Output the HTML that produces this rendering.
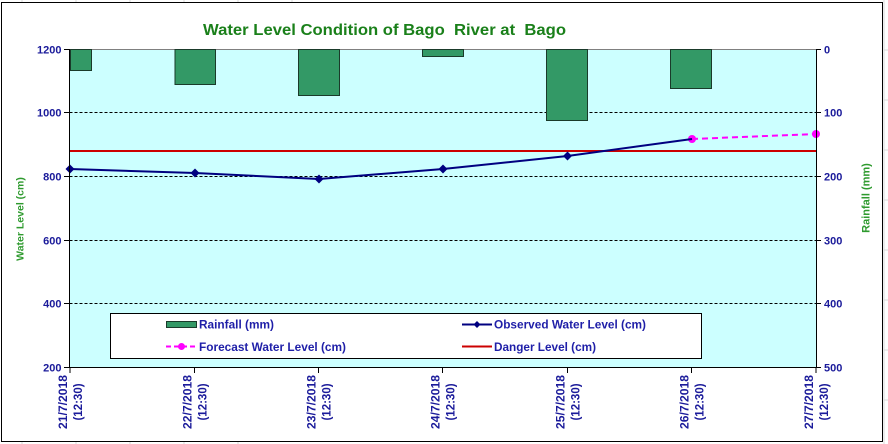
<!DOCTYPE html>
<html>
<head>
<meta charset="utf-8">
<style>
html,body{margin:0;padding:0;background:#fff;}
svg{display:block;}
text{font-family:"Liberation Sans",Arial,sans-serif;font-weight:bold;}
</style>
</head>
<body>
<svg width="888" height="444" viewBox="0 0 888 444" xmlns="http://www.w3.org/2000/svg">
  <rect x="0" y="0" width="888" height="444" fill="#ffffff"/>
  <g stroke="#d8d8d8" stroke-width="1">
    <line x1="884" y1="0" x2="884" y2="444"/>
    <line x1="22" y1="0" x2="22" y2="2"/>
    <line x1="76" y1="0" x2="76" y2="2"/>
    <line x1="130" y1="0" x2="130" y2="2"/>
    <line x1="184" y1="0" x2="184" y2="2"/>
    <line x1="238" y1="0" x2="238" y2="2"/>
    <line x1="292" y1="0" x2="292" y2="2"/>
    <line x1="22" y1="442" x2="22" y2="444"/>
    <line x1="76" y1="442" x2="76" y2="444"/>
    <line x1="130" y1="442" x2="130" y2="444"/>
    <line x1="184" y1="442" x2="184" y2="444"/>
    <line x1="238" y1="442" x2="238" y2="444"/>
    <line x1="884" y1="50" x2="888" y2="50"/>
    <line x1="884" y1="100" x2="888" y2="100"/>
    <line x1="884" y1="150" x2="888" y2="150"/>
    <line x1="884" y1="200" x2="888" y2="200"/>
    <line x1="884" y1="250" x2="888" y2="250"/>
    <line x1="884" y1="300" x2="888" y2="300"/>
    <line x1="884" y1="350" x2="888" y2="350"/>
    <line x1="884" y1="400" x2="888" y2="400"/>
  </g>
  <rect x="1.5" y="2.5" width="881" height="439" fill="#ffffff" stroke="#000" stroke-width="1"/>

  <text x="203" y="35" font-size="16" fill="#1a801a" textLength="363" lengthAdjust="spacingAndGlyphs" xml:space="preserve">Water Level Condition of Bago  River at  Bago</text>

  <rect x="69.5" y="49" width="746.5" height="318.7" fill="#ccffff"/>
  <line x1="69.5" y1="49.5" x2="816" y2="49.5" stroke="#808080" stroke-width="1"/>

  <g stroke="#000" stroke-width="1" stroke-dasharray="3,2">
    <line x1="69.5" y1="112.5" x2="816" y2="112.5"/>
    <line x1="69.5" y1="176.5" x2="816" y2="176.5"/>
    <line x1="69.5" y1="240.5" x2="816" y2="240.5"/>
    <line x1="69.5" y1="303.5" x2="816" y2="303.5"/>
  </g>

  <g fill="#339966" stroke="#1a3a2a" stroke-width="1">
    <rect x="70.5" y="49.5" width="21" height="21"/>
    <rect x="175" y="49.5" width="40.5" height="35"/>
    <rect x="298.5" y="49.5" width="41" height="46"/>
    <rect x="422.5" y="49.5" width="41" height="7"/>
    <rect x="546.5" y="49.5" width="41" height="71"/>
    <rect x="670.5" y="49.5" width="41" height="39"/>
  </g>

  <line x1="70" y1="151" x2="816" y2="151" stroke="#cc0000" stroke-width="2"/>

  <line x1="692" y1="139" x2="816" y2="134" stroke="#ff00ff" stroke-width="2" stroke-dasharray="6,4"/>
  <circle cx="692" cy="139" r="4" fill="#ff00ff"/>
  <circle cx="816" cy="134" r="4" fill="#ff00ff"/>

  <polyline points="70,169 195,173 319,179 443,169 567.5,156 692,139" fill="none" stroke="#000080" stroke-width="2"/>
  <g fill="#000080">
    <polygon points="70,164.5 74.5,169 70,173.5 65.5,169"/>
    <polygon points="195,168.5 199.5,173 195,177.5 190.5,173"/>
    <polygon points="319,174.5 323.5,179 319,183.5 314.5,179"/>
    <polygon points="443,164.5 447.5,169 443,173.5 438.5,169"/>
    <polygon points="567.5,151.5 572,156 567.5,160.5 563,156"/>
  </g>

  <g stroke="#000" stroke-width="1">
    <line x1="69.5" y1="49" x2="69.5" y2="368"/>
    <line x1="816.5" y1="49" x2="816.5" y2="368"/>
    <line x1="69" y1="367.5" x2="817" y2="367.5"/>
    <line x1="64" y1="49.5" x2="69.5" y2="49.5"/>
    <line x1="64" y1="112.5" x2="69.5" y2="112.5"/>
    <line x1="64" y1="176.5" x2="69.5" y2="176.5"/>
    <line x1="64" y1="240.5" x2="69.5" y2="240.5"/>
    <line x1="64" y1="303.5" x2="69.5" y2="303.5"/>
    <line x1="64" y1="367.5" x2="69.5" y2="367.5"/>
    <line x1="816" y1="49.5" x2="821" y2="49.5"/>
    <line x1="816" y1="112.5" x2="821" y2="112.5"/>
    <line x1="816" y1="176.5" x2="821" y2="176.5"/>
    <line x1="816" y1="240.5" x2="821" y2="240.5"/>
    <line x1="816" y1="303.5" x2="821" y2="303.5"/>
    <line x1="816" y1="367.5" x2="821" y2="367.5"/>
    <line x1="70" y1="367" x2="70" y2="373"/>
    <line x1="194.5" y1="367" x2="194.5" y2="373"/>
    <line x1="318.5" y1="367" x2="318.5" y2="373"/>
    <line x1="442.5" y1="367" x2="442.5" y2="373"/>
    <line x1="567.5" y1="367" x2="567.5" y2="373"/>
    <line x1="691.5" y1="367" x2="691.5" y2="373"/>
    <line x1="816" y1="367" x2="816" y2="373"/>
  </g>

  <g font-size="11" fill="#1a1a9a" text-anchor="end">
    <text x="61.5" y="53.5">1200</text>
    <text x="61.5" y="116.5">1000</text>
    <text x="61.5" y="180.5">800</text>
    <text x="61.5" y="244.5">600</text>
    <text x="61.5" y="307.5">400</text>
    <text x="61.5" y="371.5">200</text>
  </g>
  <g font-size="11" fill="#1a1a9a" text-anchor="start">
    <text x="824" y="53.5">0</text>
    <text x="824" y="116.5">100</text>
    <text x="824" y="180.5">200</text>
    <text x="824" y="244.5">300</text>
    <text x="824" y="307.5">400</text>
    <text x="824" y="371.5">500</text>
  </g>

  <text transform="translate(23.5,219) rotate(-90)" font-size="10.5" fill="#2e9a2e" text-anchor="middle">Water Level (cm)</text>
  <text transform="translate(869.5,198) rotate(-90)" font-size="11" fill="#2e9a2e" text-anchor="middle">Rainfall (mm)</text>

  <g font-size="11.5" fill="#1a1a9a" text-anchor="middle">
    <g transform="translate(70,402) rotate(-90)">
      <text x="0" y="-3" textLength="54" lengthAdjust="spacingAndGlyphs">21/7/2018</text>
      <text x="0" y="12">(12:30)</text>
    </g>
    <g transform="translate(194.5,402) rotate(-90)">
      <text x="0" y="-3" textLength="54" lengthAdjust="spacingAndGlyphs">22/7/2018</text>
      <text x="0" y="12">(12:30)</text>
    </g>
    <g transform="translate(318.5,402) rotate(-90)">
      <text x="0" y="-3" textLength="54" lengthAdjust="spacingAndGlyphs">23/7/2018</text>
      <text x="0" y="12">(12:30)</text>
    </g>
    <g transform="translate(442.5,402) rotate(-90)">
      <text x="0" y="-3" textLength="54" lengthAdjust="spacingAndGlyphs">24/7/2018</text>
      <text x="0" y="12">(12:30)</text>
    </g>
    <g transform="translate(567.5,402) rotate(-90)">
      <text x="0" y="-3" textLength="54" lengthAdjust="spacingAndGlyphs">25/7/2018</text>
      <text x="0" y="12">(12:30)</text>
    </g>
    <g transform="translate(691.5,402) rotate(-90)">
      <text x="0" y="-3" textLength="54" lengthAdjust="spacingAndGlyphs">26/7/2018</text>
      <text x="0" y="12">(12:30)</text>
    </g>
    <g transform="translate(816,402) rotate(-90)">
      <text x="0" y="-3" textLength="54" lengthAdjust="spacingAndGlyphs">27/7/2018</text>
      <text x="0" y="12">(12:30)</text>
    </g>
  </g>

  <rect x="110.5" y="313.5" width="591" height="45" fill="#ffffff" stroke="#000" stroke-width="1"/>
  <rect x="166.5" y="321.5" width="30" height="6" fill="#339966" stroke="#1a3a2a" stroke-width="1"/>
  <text x="199" y="328.5" font-size="12" fill="#1f1fa8" textLength="75" lengthAdjust="spacingAndGlyphs">Rainfall (mm)</text>
  <line x1="166" y1="346.5" x2="197" y2="346.5" stroke="#ff00ff" stroke-width="2" stroke-dasharray="5,3"/>
  <circle cx="181.5" cy="346.5" r="3.5" fill="#ff00ff"/>
  <text x="199" y="351" font-size="12" fill="#1f1fa8" textLength="147" lengthAdjust="spacingAndGlyphs">Forecast Water Level (cm)</text>
  <line x1="462" y1="324.5" x2="492" y2="324.5" stroke="#000080" stroke-width="2"/>
  <polygon points="477,321 480.5,324.5 477,328 473.5,324.5" fill="#000080"/>
  <text x="494" y="328.5" font-size="12" fill="#1f1fa8" textLength="152" lengthAdjust="spacingAndGlyphs">Observed Water Level (cm)</text>
  <line x1="462" y1="346.5" x2="492" y2="346.5" stroke="#cc0000" stroke-width="2"/>
  <text x="494" y="351" font-size="12" fill="#1f1fa8" textLength="102" lengthAdjust="spacingAndGlyphs">Danger Level (cm)</text>
</svg>
</body>
</html>
